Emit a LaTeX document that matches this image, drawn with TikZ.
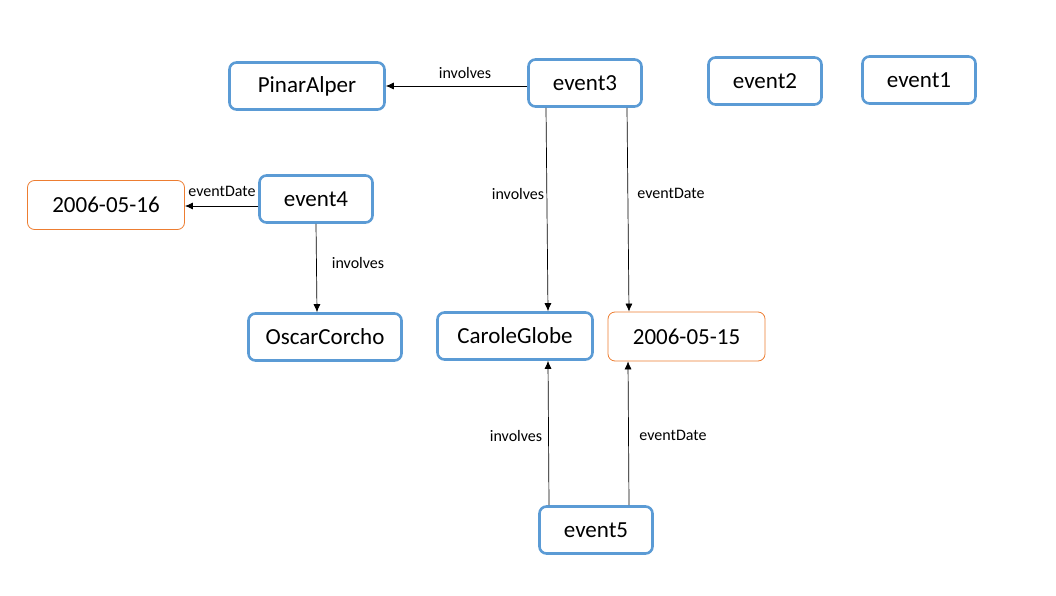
\documentclass[tikz,border=0pt]{standalone}
\usepackage{fontspec}
\setmainfont{Carlito}
\usetikzlibrary{arrows.meta,calc}
\definecolor{boxblue}{RGB}{91,155,213}
\definecolor{boxorange}{RGB}{237,125,49}
\tikzset{
  res/.style={draw=boxblue, line width=2.6pt, rounded corners=7pt, fill=white,
    minimum width=#1, minimum height=47pt, inner sep=0pt, font=\fontsize{23}{26}\selectfont},
  res/.default=113pt,
  lit/.style={draw=boxorange, line width=0.8pt, rounded corners=7pt, fill=white,
    minimum width=157pt, minimum height=49pt, inner sep=0pt, font=\fontsize{23}{26}\selectfont},
  arr/.style={draw=black, line width=0.7pt, -{Latex[length=8pt,width=7pt]}},
  lab/.style={font=\fontsize{16}{18}\selectfont, inner sep=1pt}
}
\begin{document}
\begin{tikzpicture}[x=1pt,y=-1pt]
\useasboundingbox (0,0) rectangle (1056,596);
\node[res=155pt] (pa) at (307,86) {PinarAlper};
\node[res] (e3) at (585,83) {event3};
\node[res] (e2) at (765,81) {event2};
\node[res] (e1) at (919,80) {event1};
\node[lit] (d16) at (106,205) {2006-05-16};
\node[res] (e4) at (316,199) {event4};
\node[res=153pt] (oc) at (325,337) {OscarCorcho};
\node[res=155pt] (cg) at (515,336) {CaroleGlobe};
\node[lit] (d15) at (686.5,336.5) {2006-05-15};
\node[res] (e5) at (596,530) {event5};

\draw[arr] ([yshift=-3pt]e3.west) -- (pa.east);
\node[lab] at (465,73) {involves};

\draw[arr] ([xshift=-39pt]e3.south) -- ([xshift=33pt]cg.north);
\node[lab] at (518,194) {involves};
\draw[arr] ([xshift=42pt]e3.south) -- ([xshift=-57.5pt]d15.north);
\node[lab] at (671,193) {eventDate};

\draw[arr] ([yshift=-7pt]e4.west) -- ([yshift=-1pt]d16.east);
\node[lab] at (222,191) {eventDate};
\draw[arr] (e4.south) -- ([xshift=-8pt]oc.north);
\node[lab] at (358,263) {involves};

\draw[arr] ([xshift=-47pt]e5.north) -- ([xshift=33pt]cg.south);
\node[lab] at (516,436) {involves};
\draw[arr] ([xshift=33pt]e5.north) -- ([xshift=-58.5pt]d15.south);
\node[lab] at (673,435) {eventDate};
\end{tikzpicture}
\end{document}
